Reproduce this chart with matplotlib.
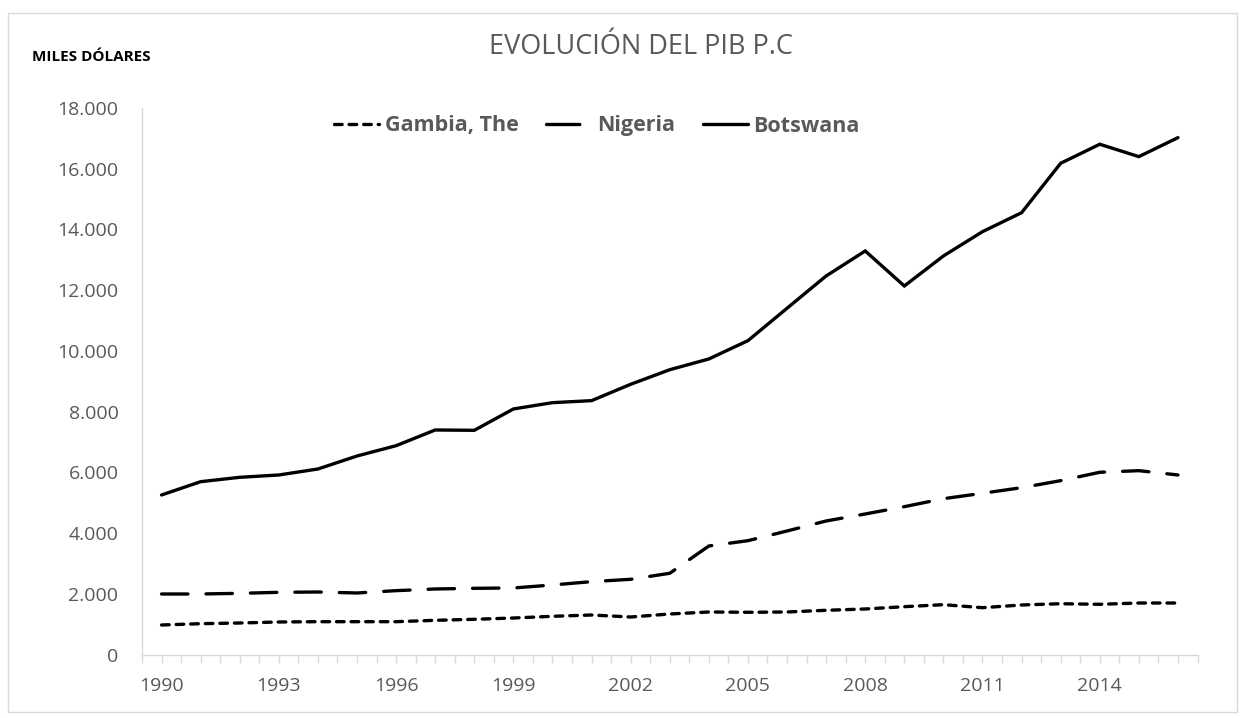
import matplotlib
matplotlib.use('Agg')
import matplotlib.pyplot as plt
from matplotlib.patches import Rectangle
from matplotlib.ticker import FuncFormatter, MultipleLocator

plt.rcParams['font.family'] = ['Open Sans', 'DejaVu Sans']
plt.rcParams['lines.scale_dashes'] = False

years = list(range(1990, 2017))
gambia = [972, 1015, 1038, 1071, 1081, 1081, 1081, 1126, 1159, 1202, 1258, 1301, 1235,
          1334, 1400, 1390, 1400, 1456, 1499, 1575, 1641, 1542, 1631, 1673, 1653, 1696, 1696]
nigeria = [1993, 1993, 2015, 2048, 2059, 2026, 2103, 2158, 2180, 2191, 2290, 2400, 2477,
           2675, 3574, 3749, 4068, 4398, 4628, 4869, 5132, 5310, 5495, 5726, 6002, 6055, 5913]
botswana = [5254, 5692, 5836, 5913, 6110, 6538, 6878, 7395, 7384, 8087, 8295, 8361, 8900,
            9380, 9734, 10337, 11404, 12468, 13291, 12138, 13126, 13927, 14552, 16180, 16806, 16398, 17024]
label_years = list(range(1990, 2017, 3))

txt_grey = '#595959'
axis_grey = '#D9D9D9'

fig = plt.figure(figsize=(12.45, 7.18), dpi=100)
ax = fig.add_axes([142 / 1245, 1 - 654.5 / 718, 1055.5 / 1245, 546.5 / 718])

# chart area border
fig.patches.append(Rectangle((8 / 1245, 1 - 712 / 718), 1229 / 1245, 699 / 718,
                             transform=fig.transFigure, fill=False,
                             edgecolor=axis_grey, linewidth=1))

lg, = ax.plot(years, gambia, color='black', lw=2.4, label='Gambia, The',
              dash_capstyle='round')
lg.set_dashes((5.5, 5.0))
ln, = ax.plot(years, nigeria, color='black', lw=2.4, label='Nigeria',
              dash_capstyle='round')
ln.set_dashes((19, 13))
lb, = ax.plot(years, botswana, color='black', lw=2.4, label='Botswana',
              solid_capstyle='round', solid_joinstyle='miter')

ax.set_xlim(1989.5, 2016.5)
ax.set_ylim(0, 18000)

for s in ['top', 'right']:
    ax.spines[s].set_visible(False)
for s in ['left', 'bottom']:
    ax.spines[s].set_color(axis_grey)
    ax.spines[s].set_linewidth(1)

ax.yaxis.set_major_locator(MultipleLocator(2000))
ax.yaxis.set_major_formatter(FuncFormatter(lambda v, p: f'{int(v):,}'.replace(',', '.')))
ax.tick_params(axis='y', length=0, pad=17, labelsize=14, labelcolor=txt_grey)

ax.set_xticks(label_years)
ax.set_xticklabels([str(y) for y in label_years])
ax.xaxis.set_minor_locator(MultipleLocator(0.5))
ax.tick_params(axis='x', which='both', length=6, color=axis_grey, width=1, direction='out')
ax.tick_params(axis='x', which='major', pad=10, labelsize=14, labelcolor=txt_grey)

fig.text(641 / 1245, 1 - 47 / 718, 'EVOLUCIÓN DEL PIB P.C', ha='center', va='center',
         fontsize=19.5, color=txt_grey)
fig.text(32 / 1245, 1 - 57 / 718, 'MILES DÓLARES', ha='left', va='center',
         fontsize=11, fontweight='bold', color='black')

leg = ax.legend(loc='center', bbox_to_anchor=(597 / 1245, 1 - 126 / 718),
                bbox_transform=fig.transFigure, ncol=3, frameon=False,
                handlelength=2.1, handletextpad=0.25, columnspacing=1.3,
                prop={'size': 15.5, 'weight': 'bold'})
for t in leg.get_texts():
    t.set_color(txt_grey)
# nigeria legend key shows only one long dash, like the original
leg.get_lines()[1].set_dashes((24, 40))

fig.savefig('out.png', dpi=100, facecolor='white')
